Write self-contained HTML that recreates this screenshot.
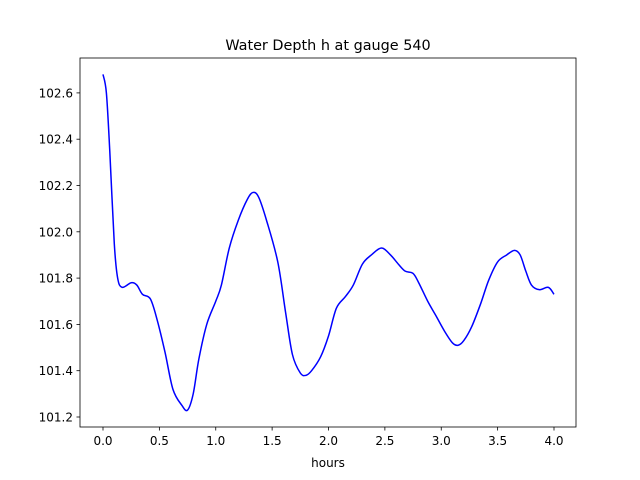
<!DOCTYPE html>
<html><head><meta charset="utf-8"><style>
body{margin:0;background:#fff;}
svg{display:block;font-family:"DejaVu Sans","Liberation Sans",sans-serif;}
</style></head><body>
<svg id="chart" width="640" height="480">
<rect width="640" height="480" fill="#fff"/>
<text x="328" y="50" font-size="14.4" text-anchor="middle">Water Depth h at gauge 540</text>
<g id="xticks"></g>
<g id="yticks"></g>
<path id="line" fill="none" stroke="#0000ff" stroke-width="1.5"/>
<rect x="80" y="58" width="496" height="369" fill="none" stroke="#000" stroke-width="0.8"/>
<text x="328" y="467" font-size="12" text-anchor="middle">hours</text>
</svg>
<script>
const hours=[0,0.03,0.06,0.1,0.13,0.17,0.25,0.3,0.35,0.42,0.48,0.55,0.62,0.7,0.75,0.8,0.85,0.92,1.0,1.05,1.12,1.2,1.28,1.33,1.38,1.45,1.55,1.62,1.68,1.75,1.8,1.85,1.93,2.0,2.07,2.15,2.22,2.3,2.38,2.47,2.55,2.62,2.68,2.75,2.8,2.88,2.95,3.03,3.1,3.15,3.2,3.27,3.35,3.42,3.5,3.58,3.65,3.7,3.75,3.8,3.87,3.95,4.0];
const depth=[102.68,102.6,102.35,101.95,101.8,101.76,101.78,101.77,101.73,101.71,101.62,101.48,101.32,101.25,101.23,101.3,101.45,101.6,101.7,101.77,101.93,102.05,102.14,102.17,102.15,102.05,101.87,101.65,101.47,101.39,101.38,101.4,101.46,101.55,101.67,101.72,101.77,101.86,101.9,101.93,101.9,101.86,101.83,101.82,101.78,101.7,101.64,101.57,101.52,101.51,101.53,101.59,101.69,101.79,101.87,101.9,101.92,101.9,101.83,101.77,101.75,101.76,101.73];
const xTickLabels=["0.0","0.5","1.0","1.5","2.0","2.5","3.0","3.5","4.0"];
const yTickLabels=["101.2","101.4","101.6","101.8","102.0","102.2","102.4","102.6"];
const NS="http://www.w3.org/2000/svg";
const X=h=>103+h*112.75;
const Y=v=>417-(v-101.2)*231.5;
function mk(t,a,p){const e=document.createElementNS(NS,t);for(const k in a)e.setAttribute(k,a[k]);p.appendChild(e);return e;}
const xg=document.getElementById('xticks'),yg=document.getElementById('yticks');
xTickLabels.forEach(l=>{const x=X(parseFloat(l));
 const t=mk('line',{x1:x,x2:x,y1:427,y2:430.5,stroke:'#000','stroke-width':0.8},xg);
 
 const tx=mk('text',{x:x,y:445,'font-size':12,'text-anchor':'middle'},xg);tx.textContent=l;
 });
yTickLabels.forEach(l=>{const y=Y(parseFloat(l));
 const t=mk('line',{x1:76.5,x2:80,y1:y,y2:y,stroke:'#000','stroke-width':0.8},yg);
 
 const tx=mk('text',{x:73,y:y+4.5,'font-size':12,'text-anchor':'end'},yg);tx.textContent=l;
 });
// smooth path via Catmull-Rom
const pts=hours.map((h,i)=>[X(h),Y(depth[i])]);
let d='M'+pts[0][0]+','+pts[0][1];
for(let i=0;i<pts.length-1;i++){const p0=pts[Math.max(0,i-1)],p1=pts[i],p2=pts[i+1],p3=pts[Math.min(pts.length-1,i+2)];
 const c1=[p1[0]+(p2[0]-p0[0])/6,p1[1]+(p2[1]-p0[1])/6],c2=[p2[0]-(p3[0]-p1[0])/6,p2[1]-(p3[1]-p1[1])/6];
 d+=' C'+c1+' '+c2+' '+p2;}
document.getElementById('line').setAttribute('d',d);
</script>
</body></html>
